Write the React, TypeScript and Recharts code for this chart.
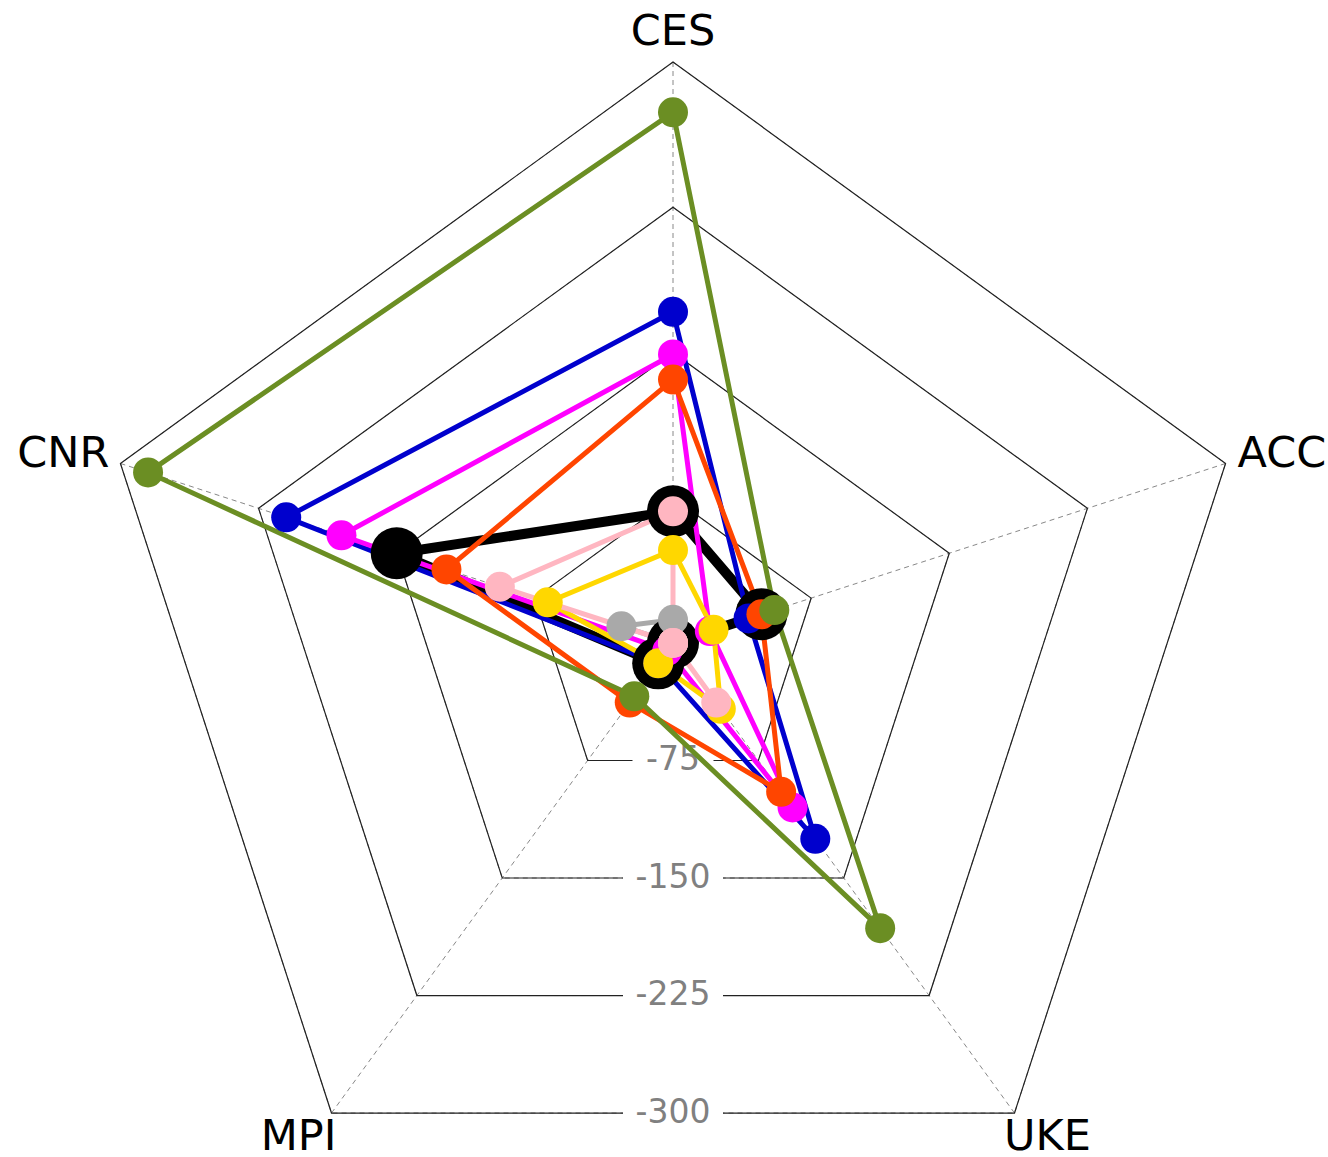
import {
	PolarAngleAxis,
	PolarGrid,
	PolarRadiusAxis,
	Radar,
	RadarChart,
} from "recharts";

const AXES = ["CES", "ACC", "UKE", "MPI", "CNR"];
const RADIUS_TICKS = [-75, -150, -225, -300];

// values per axis, same order as AXES
const black = [-68, -48, 0, -13, -150];
const grey = [-12, 0, 0, 0, -28];
const blue = [-171, -41, -125, -13, -210];
const magenta = [-149, -20, -105, -5, -180];
const orangered = [-136, -48, -95, -38, -123];
const green = [-274, -55, -182, -34, -285];
const gold = [-48, -22, -42, -13, -68];
const pink = [-68, 0, -38, 0, -94];

const SERIES = [
	{ key: "black", values: black, color: "#000000", width: 10, r: 26 },
	{ key: "grey", values: grey, color: "#a9a9a9", width: 5, r: 15 },
	{ key: "blue", values: blue, color: "#0000cd", width: 5, r: 15 },
	{ key: "magenta", values: magenta, color: "#ff00ff", width: 5, r: 15 },
	{ key: "orangered", values: orangered, color: "#ff4500", width: 5, r: 15 },
	{ key: "green", values: green, color: "#6b8e23", width: 5, r: 15 },
	{ key: "gold", values: gold, color: "#ffd700", width: 5, r: 15 },
	{ key: "pink", values: pink, color: "#ffb6c1", width: 5, r: 15 },
];

const data = AXES.map((axis, i) => {
	const row: Record<string, string | number> = { axis };
	for (const s of SERIES) row[s.key] = s.values[i];
	return row;
});

const CX = 673;
const CY = 643;
const R = 581;
const FONT = "DejaVu Sans, sans-serif";

const AngleTick = (props: any) => {
	const { payload } = props;
	const a = (payload.coordinate * Math.PI) / 180;
	const ux = Math.cos(a);
	const uy = -Math.sin(a);
	const vx = CX + R * ux;
	const vy = CY + R * uy;
	let x = vx;
	let y = vy;
	let anchor: "start" | "middle" | "end" = "middle";
	if (Math.abs(ux) < 0.1) {
		y = vy - 17;
	} else if (Math.abs(ux) > 0.9) {
		anchor = ux > 0 ? "start" : "end";
		x = vx + (ux > 0 ? 12 : -11);
		y = vy + 4;
	} else {
		x = vx + (ux > 0 ? 33 : -33);
		y = vy + 37;
	}
	return (
		<text x={x} y={y} textAnchor={anchor} fontSize={43} fontFamily={FONT} fill="#000">
			{payload.value}
		</text>
	);
};

const RadiusTick = (props: any) => {
	const { x, y, payload } = props;
	// matplotlib puts the ring labels on the flat bottom edge of each polygon
	const yy = CY + (y - CY) * Math.cos(Math.PI / 5);
	const label = `-${payload.value}`;
	const w = label.length * 19 + 24;
	return (
		<g>
			<rect x={x - w / 2} y={yy - 17} width={w} height={30} fill="#fff" />
			<text
				x={x}
				y={yy - 2}
				textAnchor="middle"
				dominantBaseline="central"
				fontSize={33}
				fontFamily={FONT}
				fill="#808080"
			>
				{label}
			</text>
		</g>
	);
};

export default function App() {
	return (
		<div
			style={{
				position: "absolute",
				left: 0,
				top: 0,
				width: 1328,
				height: 1157,
				overflow: "hidden",
			}}
		>
			<RadarChart
				width={1328}
				height={1157}
				data={data}
				cx={CX}
				cy={CY}
				outerRadius={R}
				margin={{ top: 0, right: 0, bottom: 0, left: 0 }}
				style={{ overflow: "visible" }}
			>
				<PolarGrid gridType="polygon" stroke="#888" strokeDasharray="5 4" />
				<PolarGrid gridType="polygon" radialLines={false} stroke="#222" strokeWidth={1.2} />
				<PolarAngleAxis dataKey="axis" tick={<AngleTick />} tickLine={false} axisLine={false} />
				<PolarRadiusAxis
					angle={-90}
					domain={[0, 300]}
					ticks={RADIUS_TICKS.map((t) => -t)}
					tick={<RadiusTick />}
					tickLine={false}
					axisLine={false}
					zIndex={-50}
				/>
				{SERIES.map((s) => (
					<Radar
						key={s.key}
						name={s.key}
						dataKey={(d: any) => -d[s.key]}
						stroke={s.color}
						strokeWidth={s.width}
						fill="none"
						fillOpacity={0}
						isAnimationActive={false}
						dot={(p: any) => (
							<circle key={`${s.key}-${p.index}`} cx={p.cx} cy={p.cy} r={s.r} fill={s.color} stroke="none" />
						)}
					/>
				))}
			</RadarChart>
		</div>
	);
}
